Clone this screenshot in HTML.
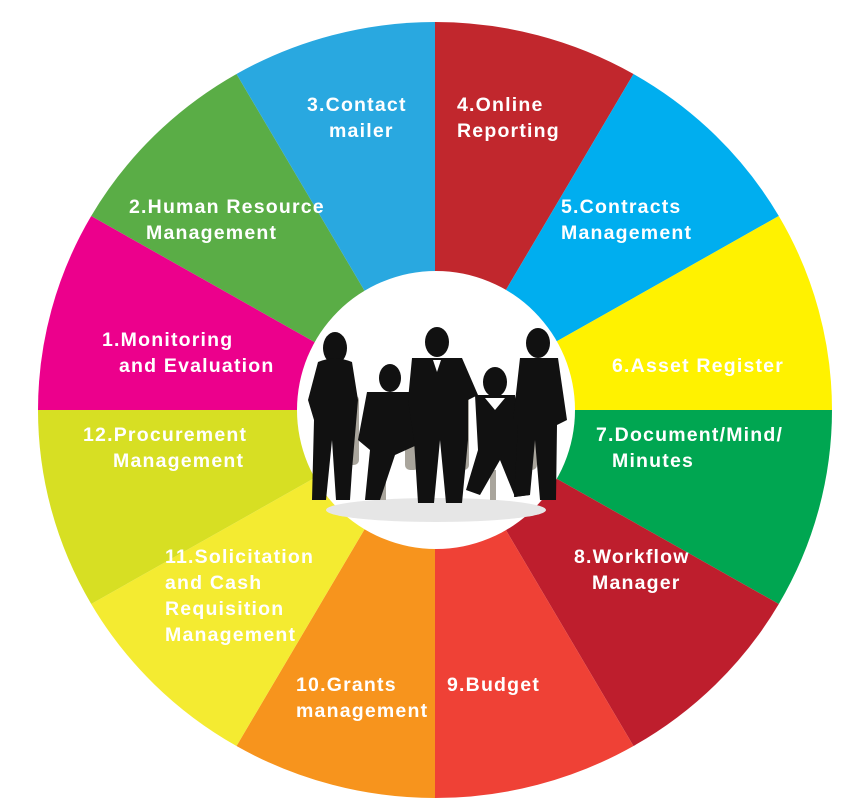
<!DOCTYPE html>
<html><head><style>
html,body{margin:0;padding:0;background:#fff;}
svg{display:block;}
text{font-family:"Liberation Sans",Arial,sans-serif;font-weight:bold;font-size:19.5px;letter-spacing:1.2px;fill:#fff;}
</style></head><body>
<svg width="863" height="800" viewBox="0 0 863 800">
<g>
<path d="M435 410 L435 22 A397 388 0 0 1 633.5 74 Z" fill="#c1272d"/>
<path d="M435 410 L633.5 74 A397 388 0 0 1 778.8 216 Z" fill="#00aeef"/>
<path d="M435 410 L778.8 216 A397 388 0 0 1 832 410 Z" fill="#fff200"/>
<path d="M435 410 L832 410 A397 388 0 0 1 778.8 604 Z" fill="#00a651"/>
<path d="M435 410 L778.8 604 A397 388 0 0 1 633.5 746 Z" fill="#be1e2d"/>
<path d="M435 410 L633.5 746 A397 388 0 0 1 435 798 Z" fill="#ef4136"/>
<path d="M435 410 L435 798 A397 388 0 0 1 236.5 746 Z" fill="#f7941d"/>
<path d="M435 410 L236.5 746 A397 388 0 0 1 91.2 604 Z" fill="#f4eb31"/>
<path d="M435 410 L91.2 604 A397 388 0 0 1 38 410 Z" fill="#d7df23"/>
<path d="M435 410 L38 410 A397 388 0 0 1 91.2 216 Z" fill="#ec008c"/>
<path d="M435 410 L91.2 216 A397 388 0 0 1 236.5 74 Z" fill="#5aad46"/>
<path d="M435 410 L236.5 74 A397 388 0 0 1 435 22 Z" fill="#29a8e0"/>
</g>
<circle cx="436" cy="410" r="139" fill="#fff"/>
<ellipse cx="436" cy="510" rx="110" ry="12" fill="#e6e6e6"/>
<g fill="#a9a59c">
<rect x="345" y="395" width="14" height="70" rx="5"/>
<rect x="405" y="430" width="14" height="40" rx="5"/>
<rect x="455" y="395" width="14" height="75" rx="5"/>
<rect x="525" y="430" width="12" height="40" rx="5"/>
<rect x="380" y="470" width="6" height="30"/>
<rect x="490" y="470" width="6" height="30"/>
</g>
<g fill="#111">
<ellipse cx="335" cy="348" rx="12" ry="16"/>
<path d="M318 362 Q335 355 352 362 L358 400 L352 470 L350 500 L336 500 L332 440 L326 500 L312 500 L314 420 L308 400 Z"/>
<ellipse cx="390" cy="378" rx="11" ry="14"/>
<path d="M367 392 L413 392 L417 445 L395 455 L380 500 L365 500 L370 450 L358 440 Z"/>
<ellipse cx="437" cy="342" rx="12" ry="15"/>
<path d="M412 358 L462 358 L478 395 L468 400 L468 440 L462 503 L446 503 L440 440 L434 503 L418 503 L414 440 L408 400 Z"/>
<ellipse cx="495" cy="382" rx="12" ry="15"/>
<path d="M475 395 L515 395 L522 450 L530 495 L515 497 L500 460 L480 495 L466 490 L478 450 Z"/>
<ellipse cx="538" cy="343" rx="12" ry="15"/>
<path d="M520 358 L558 358 L567 420 L557 425 L556 500 L540 500 L535 440 L530 495 L514 497 L518 425 L513 420 Z"/>
</g>
<path d="M433 360 L437 372 L441 360 Z" fill="#fff"/>
<path d="M485 398 L495 410 L505 398 Z" fill="#fff"/>
<text x="307" y="111">3.Contact</text>
<text x="329" y="137">mailer</text>
<text x="457" y="111">4.Online</text>
<text x="457" y="137">Reporting</text>
<text x="129" y="213">2.Human Resource</text>
<text x="146" y="239">Management</text>
<text x="561" y="213">5.Contracts</text>
<text x="561" y="239">Management</text>
<text x="102" y="346">1.Monitoring</text>
<text x="119" y="372">and Evaluation</text>
<text x="612" y="372">6.Asset Register</text>
<text x="83" y="441">12.Procurement</text>
<text x="113" y="467">Management</text>
<text x="596" y="441">7.Document/Mind/</text>
<text x="612" y="467">Minutes</text>
<text x="165" y="563">11.Solicitation</text>
<text x="165" y="589">and Cash</text>
<text x="165" y="615">Requisition</text>
<text x="165" y="641">Management</text>
<text x="574" y="563">8.Workflow</text>
<text x="592" y="589">Manager</text>
<text x="296" y="691">10.Grants</text>
<text x="296" y="717">management</text>
<text x="447" y="691">9.Budget</text>
</svg>
</body></html>
